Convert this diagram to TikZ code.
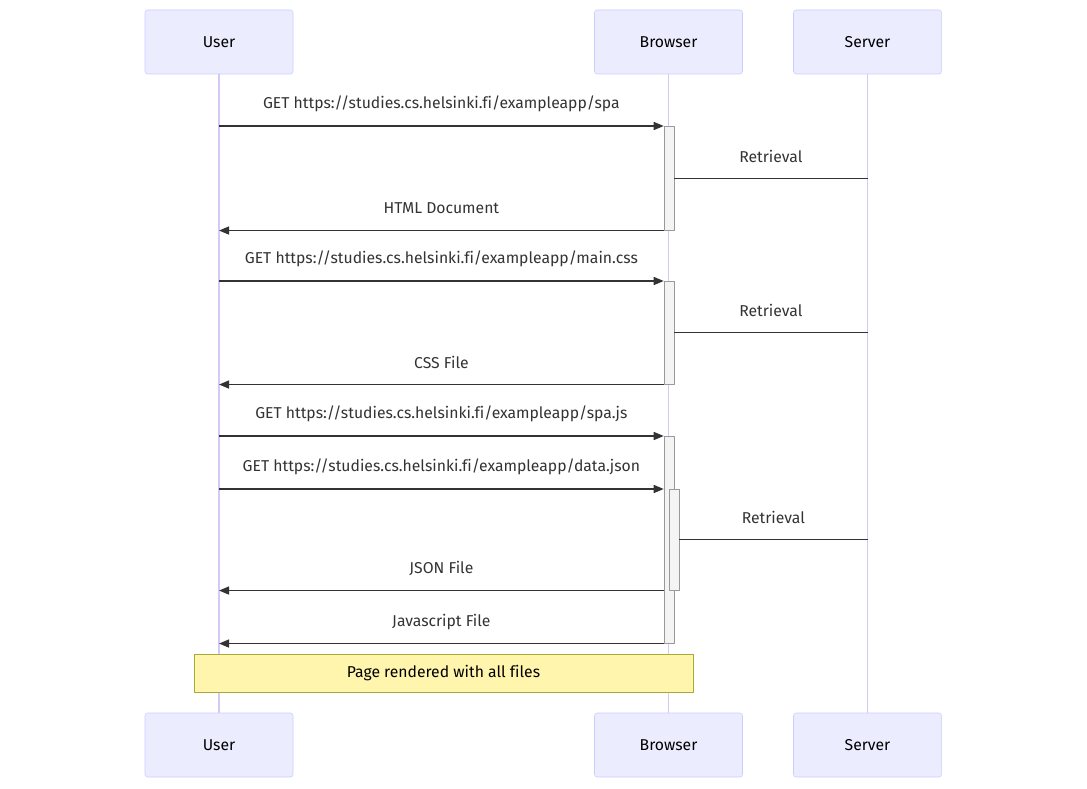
\documentclass[tikz,border=0pt]{standalone}
\usepackage{fontspec}
\setmainfont[Ligatures=NoCommon]{Fira Sans}
\usetikzlibrary{arrows.meta}
\definecolor{actorfill}{HTML}{ECECFF}
\definecolor{actorline}{HTML}{CCCCFF}
\definecolor{lifeline}{HTML}{D6C9F6}
\definecolor{msgcol}{HTML}{333333}
\definecolor{actfill}{HTML}{F4F4F4}
\definecolor{actline}{HTML}{999999}
\definecolor{notefill}{HTML}{FFF5AD}
\definecolor{noteline}{HTML}{AAAA33}
\tikzset{
  every picture/.style={font=\fontsize{11.8}{13}\selectfont, line join=round, >=Stealth},
  actor/.style={draw=actorline, fill=actorfill, rounded corners=2pt, minimum width=111pt, minimum height=48pt, inner sep=0pt},
  life/.style={draw=lifeline, line width=1.3pt},
  msg/.style={draw=msgcol, line width=1pt, -{Triangle[length=7.5pt,width=6pt]}},
  ret/.style={draw=msgcol, line width=1pt},
  bar/.style={draw=actline, fill=actfill, minimum width=7.5pt, inner sep=0pt, anchor=north},
  lbl/.style={midway, yshift=16.5pt, text=msgcol},
  note/.style={draw=noteline, fill=notefill, minimum width=374.25pt, minimum height=28.5pt, inner sep=0pt},
}

\begin{document}
\begin{tikzpicture}[x=0.75pt,y=-0.75pt]
\useasboundingbox(0,0)rectangle(1087,788);
\node[actor](userT)at(219,42){User};
\node[actor](browserT)at(668.5,42){Browser};
\node[actor](serverT)at(867.5,42){Server};
\node[actor](userB)at(219,745){User};
\node[actor](browserB)at(668.5,745){Browser};
\node[actor](serverB)at(867.5,745){Server};
\draw[life](userT)--(userB);
\draw[life](browserT)--(browserB);
\draw[life](serverT)--(serverB);
\node[bar,minimum height=78pt](act1)at(669,126){};
\node[bar,minimum height=77.25pt](act2)at(669,281){};
\node[bar,minimum height=155.25pt](act3)at(669,436){};
\node[bar,minimum height=75.75pt](act4)at(674,489){};
\draw[msg](userT |- act1.north west)--(act1.north west)node[lbl]{GET https://studies.cs.helsinki.fi/exampleapp/spa};
\draw[ret](serverT |- act1.east)--(act1.east)node[lbl]{Retrieval};
\draw[msg](act1.south west)--(userT |- act1.south west)node[lbl]{HTML Document};
\draw[msg](userT |- act2.north west)--(act2.north west)node[lbl]{GET https://studies.cs.helsinki.fi/exampleapp/main.css};
\draw[ret](serverT |- act2.east)--(act2.east)node[lbl]{Retrieval};
\draw[msg](act2.south west)--(userT |- act2.south west)node[lbl]{CSS File};
\draw[msg](userT |- act3.north west)--(act3.north west)node[lbl]{GET https://studies.cs.helsinki.fi/exampleapp/spa.js};
\draw[msg](userT |- act4.north)--(act3.west |- act4.north)node[lbl]{GET https://studies.cs.helsinki.fi/exampleapp/data.json};
\draw[ret](serverT |- act4.east)--(act4.east)node[lbl]{Retrieval};
\draw[msg](act3.west |- act4.south)--(userT |- act4.south)node[lbl]{JSON File};
\draw[msg](act3.south west)--(userT |- act3.south west)node[lbl]{Javascript File};
\node[note](note1)at(443.5,673){Page rendered with all files};
\end{tikzpicture}
\end{document}
